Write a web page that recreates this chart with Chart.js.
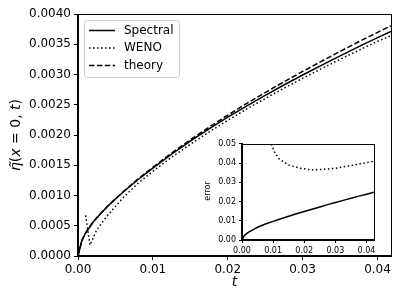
<!DOCTYPE html>
<html>
<head>
<meta charset="utf-8">
<script src="https://cdn.jsdelivr.net/npm/chart.js@4.4.1/dist/chart.umd.min.js"></script>
<style>
  html, body { margin: 0; padding: 0; background: #fff; }
  #wrap { position: relative; width: 403px; height: 302px; }
  #main { position: absolute; left: 0; top: 0; width: 403px; height: 302px; }
  #inset { position: absolute; left: 196px; top: 136px; width: 184px; height: 124px; }
</style>
</head>
<body>
<div id="wrap">
  <canvas id="main" width="403" height="302"></canvas>
  <canvas id="inset" width="184" height="124"></canvas>
</div>
<script>
// datos
const tMain = [0, 0.0005, 0.001, 0.002, 0.003, 0.004, 0.006, 0.008, 0.010, 0.0125, 0.015, 0.0175,
  0.020, 0.0225, 0.025, 0.0275, 0.030, 0.0325, 0.035, 0.0375, 0.040, 0.0418];
const theory = [0, 0.00025, 0.00038, 0.00056, 0.0007, 0.00083, 0.00106, 0.00127, 0.001467, 0.001702,
  0.001922, 0.00213, 0.002328, 0.002519, 0.002702, 0.002879, 0.003051, 0.003218, 0.003382, 0.003541,
  0.003697, 0.003805];
const spectral = [0, 0.00025, 0.00038, 0.000558, 0.000697, 0.000826, 0.001053, 0.00126, 0.001453, 0.001682,
  0.001898, 0.002101, 0.002294, 0.002479, 0.002656, 0.002826, 0.002992, 0.003152, 0.003309, 0.00346,
  0.003609, 0.003711];

const tWeno = [0.00102, 0.0016, 0.0025, 0.0038, 0.006, 0.008, 0.010, 0.0125, 0.015, 0.0175, 0.020,
  0.0225, 0.025, 0.0275, 0.030, 0.0325, 0.035, 0.0375, 0.040, 0.0418];
const weno = [0.00067, 0.00018, 0.00043, 0.00065, 0.00096, 0.0012, 0.0014, 0.001633, 0.001847, 0.00205,
  0.002242, 0.002427, 0.002603, 0.002773, 0.002937, 0.003096, 0.003251, 0.003401, 0.003548, 0.00364];

// inset: error
const tErrSpectral = [0, 0.0005, 0.001, 0.002, 0.003, 0.005, 0.0075, 0.010, 0.0125, 0.015, 0.0175, 0.020,
  0.0225, 0.025, 0.0275, 0.030, 0.0325, 0.035, 0.0375, 0.040, 0.0424];
const errSpectral = [0, 0.0017, 0.0027, 0.0040, 0.0049, 0.0066, 0.0083, 0.0097, 0.011, 0.0123, 0.0136, 0.0148,
  0.016, 0.0172, 0.0184, 0.0195, 0.0206, 0.0217, 0.0228, 0.0238, 0.0248];
const tErrWeno = [0.008, 0.009, 0.0095, 0.0105, 0.012, 0.015, 0.019, 0.022, 0.025, 0.030, 0.035, 0.0424];
const errWeno = [0.06, 0.052, 0.0495, 0.0455, 0.042, 0.039, 0.0372, 0.0365, 0.0366, 0.0373, 0.0387, 0.041];

const xTicks = [0, 0.01, 0.02, 0.03, 0.04];
const yTicks = [0, 0.0005, 0.001, 0.0015, 0.002, 0.0025, 0.003, 0.0035, 0.004];
const insetXTicks = [0, 0.01, 0.02, 0.03, 0.04];
const insetYTicks = [0, 0.01, 0.02, 0.03, 0.04, 0.05];

Chart.defaults.font.family = 'DejaVu Sans';
Chart.defaults.color = '#000';

const pts = (xs, ys) => xs.map((x, i) => ({ x: x, y: ys[i] }));

const SOLID = [];
const DOTTED = [1.5, 2.5];
const DASHED = [5.5, 2.4];

function linea(label, data, dash) {
  return {
    label: label, data: data, borderColor: '#000', borderWidth: 1.5, borderDash: dash,
    pointRadius: 0, tension: 0, fill: false
  };
}

function eje(min, max, ticks, dec, size, fit, isX, tl) {
  return {
    type: 'linear', min: min, max: max,
    afterBuildTicks: s => { s.ticks = ticks.map(v => ({ value: v })); },
    afterFit: s => { if (isX) s.height = fit; else s.width = fit; },
    ticks: { callback: v => v.toFixed(dec), font: { size: size }, color: '#000', padding: 3, maxRotation: 0, autoSkip: false },
    grid: { display: true, drawOnChartArea: false, drawTicks: true, tickLength: tl, color: '#000' },
    border: { display: true, color: '#000', width: 1 }
  };
}

// marco completo + textos
const marco = {
  id: 'marco',
  beforeDraw(chart) {
    const a = chart.chartArea, ctx = chart.ctx;
    ctx.save();
    ctx.fillStyle = '#fff';
    ctx.fillRect(a.left, a.top, a.right - a.left, a.bottom - a.top);
    ctx.restore();
  },
  afterDraw(chart) {
    const a = chart.chartArea, ctx = chart.ctx;
    ctx.save();
    ctx.strokeStyle = '#000';
    ctx.lineWidth = 1;
    ctx.strokeRect(Math.round(a.left) - 0.5, Math.round(a.top) + 0.5,
      Math.round(a.right - a.left) + 1, Math.round(a.bottom - a.top) - 1);
    ctx.restore();
  }
};

function textoMixto(ctx, parts, size, cx, cy) {
  ctx.save();
  ctx.translate(cx, cy);
  ctx.rotate(-Math.PI / 2);
  ctx.textBaseline = 'middle';
  ctx.fillStyle = '#000';
  let total = 0;
  parts.forEach(p => { ctx.font = p[1] + ' ' + size + 'px DejaVu Sans'; total += ctx.measureText(p[0]).width; });
  let x = -total / 2;
  parts.forEach(p => {
    ctx.font = p[1] + ' ' + size + 'px DejaVu Sans';
    ctx.textAlign = 'left';
    ctx.fillText(p[0], x, 0);
    x += ctx.measureText(p[0]).width;
  });
  ctx.restore();
}

const leyenda = {
  id: 'leyenda',
  afterDraw(chart) {
    const ctx = chart.ctx;
    ctx.save();
    ctx.beginPath();
    ctx.roundRect(84.5, 20.5, 95, 57, 3);
    ctx.fillStyle = 'rgba(255,255,255,0.8)';
    ctx.fill();
    ctx.strokeStyle = '#ccc';
    ctx.lineWidth = 1;
    ctx.stroke();
    chart.data.datasets.forEach((ds, i) => {
      const y = 30.5 + i * 17.5;
      ctx.beginPath();
      ctx.setLineDash(ds.borderDash || []);
      ctx.strokeStyle = '#000';
      ctx.lineWidth = 1.5;
      ctx.moveTo(89, y);
      ctx.lineTo(115, y);
      ctx.stroke();
      ctx.setLineDash([]);
      ctx.fillStyle = '#000';
      ctx.font = '12px DejaVu Sans';
      ctx.textBaseline = 'middle';
      ctx.fillText(ds.label, 124, y);
    });
    textoMixto(ctx, [['η\u0303', 'italic'], ['(', ''], ['x', 'italic'], [' = 0, ', ''], ['t', 'italic'], [')', '']], 14, 16, 135);
    ctx.restore();
  }
};

new Chart(document.getElementById('main'), {
  type: 'line',
  data: {
    datasets: [
      linea('Spectral', pts(tMain, spectral), SOLID),
      linea('WENO', pts(tWeno, weno), DOTTED),
      linea('theory', pts(tMain, theory), DASHED)
    ]
  },
  options: {
    responsive: false, animation: false,
    layout: { padding: { left: 0, right: 12, top: 14, bottom: 0 } },
    plugins: { legend: { display: false }, tooltip: { enabled: false } },
    scales: {
      x: Object.assign(eje(0, 0.0418, xTicks, 2, 12, 46, true, 4), {
        title: { display: true, text: 't', font: { size: 14, style: 'italic' }, color: '#000', padding: { top: 0, bottom: 11 } }
      }),
      y: eje(0, 0.004, yTicks, 4, 12, 78, false, 4)
    }
  },
  plugins: [marco, leyenda]
});

const tituloInset = {
  id: 'tituloInset',
  afterDraw(chart) {
    textoMixto(chart.ctx, [['error', '']], 8, 12, 55);
  }
};

new Chart(document.getElementById('inset'), {
  type: 'line',
  data: {
    datasets: [
      linea('Spectral', pts(tErrSpectral, errSpectral), SOLID),
      linea('WENO', pts(tErrWeno, errWeno), DOTTED)
    ]
  },
  options: {
    responsive: false, animation: false,
    layout: { padding: { left: 0, right: 6, top: 6, bottom: 0 } },
    plugins: { legend: { display: false }, tooltip: { enabled: false } },
    scales: {
      x: eje(0, 0.0424, insetXTicks, 2, 8, 20, true, 3),
      y: eje(0, 0.05, insetYTicks, 2, 8, 46, false, 3)
    }
  },
  plugins: [marco, tituloInset]
});
</script>
</body>
</html>
